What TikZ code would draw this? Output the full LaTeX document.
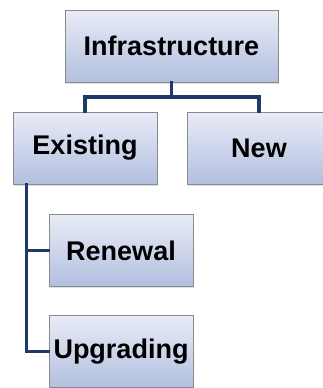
\documentclass[tikz,border=0pt]{standalone}
\usepackage{fontspec}
\setmainfont{Liberation Sans}
\usetikzlibrary{shadows}
\definecolor{linkblue}{HTML}{1F3A68}
\definecolor{boxtop}{HTML}{E9ECF7}
\definecolor{boxbot}{HTML}{B2BFDF}
\definecolor{boxline}{HTML}{8A8A8A}
\tikzset{
	box/.style={draw=boxline, line width=0.8pt, top color=boxtop, bottom color=boxbot,
		minimum width=144pt, minimum height=72pt, inner sep=1pt,
		font=\fontsize{27}{30}\selectfont\bfseries,
		drop shadow={shadow xshift=1pt, shadow yshift=-1.5pt, opacity=0.25}},
	link/.style={draw=linkblue, line width=3.6pt, line cap=rect}
}
\begin{document}
\begin{tikzpicture}[x=1pt, y=1pt]
	\useasboundingbox (0, 0) rectangle (323, -388);
	\clip (0, 0) rectangle (323, -388);
	
	% top level
	\node[box, minimum width=213pt] (infra) at (171.5, -46) {Infrastructure};
	
	% second level
	\node[box] (exist) at (85, -148) {Existing};
	\node[box] (new) at (259, -148) {New};
	
	% below existing
	\node[box] (renew) at (121, -250.5) {Renewal};
	\node[box] (upgr) at (121, -351.5) {Upgrading};
	
	% connectors
	\coordinate (split) at (171.5, -97);
	\draw[link] (infra.south) -- (split) -| (exist.north);
	\draw[link] (split) -| (new.north);
	\coordinate (spine) at ([xshift=14pt]exist.south west);
	\draw[link] (spine) |- (renew.west);
	\draw[link] (spine) |- (upgr.west);
\end{tikzpicture}
\end{document}
